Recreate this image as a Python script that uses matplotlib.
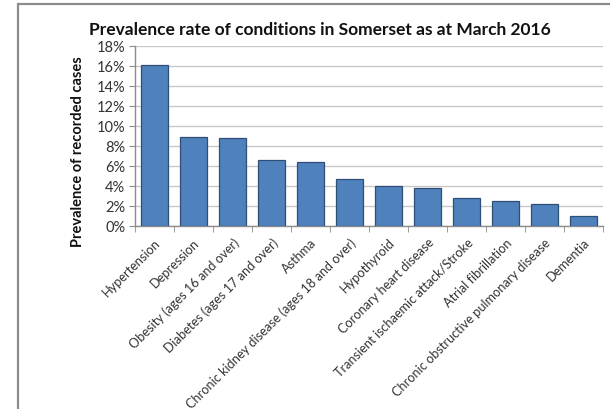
import matplotlib.pyplot as plt
from matplotlib.patches import Rectangle
from matplotlib.ticker import FuncFormatter, MultipleLocator

conditions = [
    "Hypertension",
    "Depression",
    "Obesity (ages 16 and over)",
    "Diabetes (ages 17 and over)",
    "Asthma",
    "Chronic kidney disease (ages 18 and over)",
    "Hypothyroid",
    "Coronary heart disease",
    "Transient ischaemic attack/Stroke",
    "Atrial fibrillation",
    "Chronic obstructive pulmonary disease",
    "Dementia",
]
prevalence = [16.1, 8.9, 8.8, 6.6, 6.4, 4.7, 4.0, 3.8, 2.8, 2.5, 2.2, 1.0]

plt.rcParams['font.family'] = ['Lato', 'DejaVu Sans']

W, H = 610, 410
fig = plt.figure(figsize=(W / 100, H / 100), dpi=100)

# outer chart frame (runs off the right and bottom edges)
fig.patches.append(Rectangle((18 / W, -0.05), 1.0, (H - 5) / H + 0.05,
                             transform=fig.transFigure, fill=False,
                             edgecolor='#8c8c8c', linewidth=1.6))

ax = fig.add_axes([135 / W, (H - 227) / H, (603 - 135) / W, (227 - 47) / H])

x = range(len(conditions))
ax.bar(x, prevalence, width=0.68, color='#4f81bd', edgecolor='#2f4f77',
       linewidth=0.9, zorder=3)

ax.set_xlim(-0.5, len(conditions) - 0.5)
ax.set_ylim(0, 18)
ax.yaxis.set_major_locator(MultipleLocator(2))
ax.yaxis.set_major_formatter(FuncFormatter(lambda v, p: f"{v:.0f}%"))
ax.grid(axis='y', color='#c8c8c8', linewidth=1.0, zorder=0)

ax.set_xticks(list(x))
ax.set_xticklabels(conditions, rotation=45, ha='right', rotation_mode='anchor',
                   fontsize=9.2, color='#333333')
ax.set_xticks([i - 0.5 for i in range(len(conditions) + 1)], minor=True)
ax.tick_params(axis='x', which='major', length=0, pad=7)
ax.tick_params(axis='x', which='minor', length=4, color='#8c8c8c')
ax.tick_params(axis='y', length=4, color='#8c8c8c', labelsize=10.5, pad=3,
               labelcolor='#333333')

for side in ['top', 'right']:
    ax.spines[side].set_visible(False)
for side in ['left', 'bottom']:
    ax.spines[side].set_color('#8c8c8c')
    ax.spines[side].set_linewidth(1.0)

fig.text(78 / W, (H - 152) / H, "Prevalence of recorded cases", rotation=90,
         ha='center', va='center', fontsize=10.5, fontweight='bold', color='#111111')
fig.text(320 / W, (H - 30) / H, "Prevalence rate of conditions in Somerset as at March 2016",
         ha='center', va='center', fontsize=12.5, fontweight='bold', color='#111111')

fig.savefig('out.png', dpi=100)
